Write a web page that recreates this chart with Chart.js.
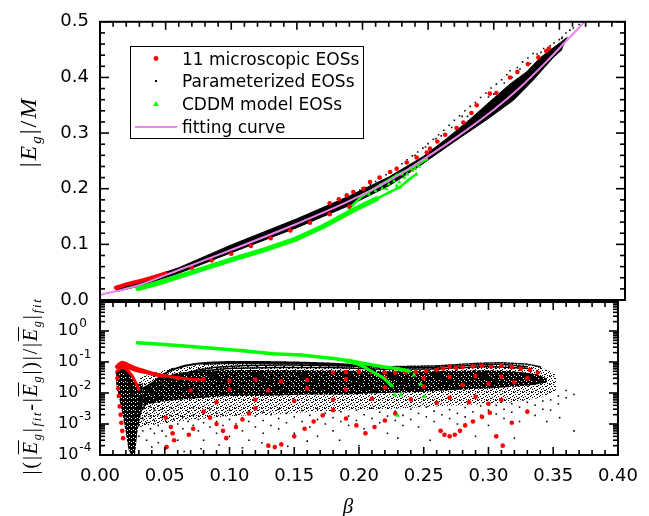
<!DOCTYPE html>
<html><head><meta charset="utf-8">
<script src="https://cdn.jsdelivr.net/npm/chart.js@4.4.1/dist/chart.umd.min.js"></script>
<style>
html,body{margin:0;padding:0;background:#fff}
body{width:649px;height:516px;position:relative;overflow:hidden}
canvas{position:absolute;left:0;top:0}
.t{position:absolute;white-space:nowrap;font-family:'Liberation Serif','Times New Roman',serif;color:#000;transform:translate(-50%,-50%) rotate(-90deg);line-height:1}
.t i{font-style:italic}
.t sub{font-size:0.62em;vertical-align:-0.35em;line-height:0}
.ob{text-decoration:overline;text-decoration-thickness:1px}
#bx{position:absolute;transform:translate(-50%,-50%);font:italic 21px 'Liberation Serif',serif;line-height:1}
</style></head><body>
<canvas id="cTop" width="649" height="516"></canvas>
<canvas id="cBot" width="649" height="516"></canvas>
<div class="t" style="left:28px;top:132px;font-size:24px;letter-spacing:2px">|<i>E</i><sub><i>g</i></sub>|/<i>M</i></div>
<div class="t" style="left:30px;top:386px;font-size:20px;letter-spacing:1.8px">|(|<i class="ob">E</i><sub><i>g</i></sub>|<sub><i>fit</i></sub>-|<i class="ob">E</i><sub><i>g</i></sub>|)|/|<i class="ob">E</i><sub><i>g</i></sub>|<sub><i>fit</i></sub></div>
<div id="bx" style="left:348px;top:506px">β</div>
<script>
// ---------- axis ticks ----------
const xMajorTicks = [0, 0.05, 0.10, 0.15, 0.20, 0.25, 0.30, 0.35, 0.40];
const yTopMajorTicks = [0, 0.1, 0.2, 0.3, 0.4, 0.5];
const yBotDecades = [-4, -3, -2, -1, 0];
const legendLabels = ['11 microscopic EOSs', 'Parameterized EOSs', 'CDDM model EOSs', 'fitting curve'];

// ---------- top panel: |Eg|/M vs beta ----------
const fitBeta = [0, 0.03, 0.06, 0.10, 0.15, 0.19, 0.22, 0.24, 0.27, 0.30, 0.32, 0.34, 0.355, 0.369, 0.38];
const fitEg   = [0.009, 0.027, 0.054, 0.090, 0.137, 0.178, 0.214, 0.243, 0.290, 0.342, 0.382, 0.428, 0.465, 0.500, 0.530];

const topBlackUpper = [[0.012,0.021],[0.03,0.034],[0.06,0.058],[0.10,0.099],[0.15,0.146],[0.19,0.187],[0.22,0.221],[0.2463,0.258],[0.264,0.290],[0.282,0.325],[0.2997,0.362],[0.3124,0.388],[0.325,0.410],[0.3352,0.435],[0.348,0.458],[0.356,0.472]];
const topBlackLower = [[0.012,0.015],[0.03,0.025],[0.06,0.048],[0.10,0.085],[0.15,0.130],[0.19,0.170],[0.22,0.205],[0.2438,0.2415],[0.269,0.283],[0.2946,0.324],[0.315,0.359],[0.330,0.395],[0.3454,0.436],[0.352,0.450]];
const topBlackDots = [[0.3606,0.489],[0.358,0.485],[0.355,0.480],[0.352,0.472],[0.35,0.468],[0.346,0.462],[0.343,0.457],[0.338,0.452],[0.333,0.442],[0.33,0.443],[0.326,0.435],[0.322,0.428],[0.318,0.418],[0.3124,0.412],[0.31,0.405],[0.306,0.396],[0.302,0.388],[0.298,0.381],[0.294,0.372],[0.29,0.364],[0.286,0.355],[0.282,0.348],[0.278,0.340],[0.274,0.331],[0.27,0.323],[0.266,0.314],[0.262,0.305],[0.258,0.297],[0.254,0.289],[0.25,0.281],[0.246,0.273],[0.242,0.266],[0.238,0.259],[0.234,0.252],[0.23,0.245],[0.226,0.238],[0.222,0.231],[0.218,0.225],[0.214,0.219],[0.21,0.213],[0.206,0.207],[0.202,0.202],[0.198,0.197],[0.194,0.193],[0.365,0.495],[0.34,0.44],[0.3,0.37],[0.28,0.33],[0.26,0.295],
  [0.352,0.47],[0.344,0.45],[0.336,0.445],[0.328,0.425],[0.32,0.415],[0.314,0.4],[0.308,0.39],[0.296,0.365],[0.288,0.35],[0.276,0.33],[0.268,0.31],[0.256,0.29],[0.248,0.275],[0.24,0.26]];
const topRedLow = [[0.012,0.022],[0.016,0.025],[0.02,0.028],[0.025,0.031],[0.03,0.034],[0.035,0.037],[0.042,0.042],[0.05,0.048]];
const topRedDots = [[0.175,0.174],[0.182,0.181],[0.188,0.188],[0.193,0.194],[0.2006,0.200],[0.2057,0.212],[0.213,0.220],[0.221,0.230],[0.226,0.236],[0.2337,0.247],[0.2413,0.256],[0.249,0.265],[0.2514,0.272],[0.257,0.285],[0.263,0.297],[0.2717,0.309],[0.2768,0.319],[0.283,0.336],[0.287,0.350],[0.297,0.371],[0.302,0.372],[0.3124,0.400],[0.318,0.410],[0.326,0.424],[0.334,0.436],[0.340,0.4476],[0.342,0.452],
  [0.07,0.058],[0.085,0.071],[0.10,0.083],[0.115,0.097],[0.13,0.111],[0.145,0.125],[0.16,0.139],[0.175,0.154],[0.19,0.168]];
const topGreenBand = [[0.029,0.0206],[0.045,0.031],[0.06,0.042],[0.0978,0.0707],[0.125,0.090],[0.1486,0.109],[0.17,0.132],[0.1943,0.163],[0.2108,0.182]];
const topGreenFanUpper = [[0.19,0.165],[0.2006,0.1885],[0.2133,0.206],[0.226,0.224],[0.2362,0.2356],[0.2489,0.253]];
const topGreenFanLower = [[0.2108,0.182],[0.22,0.193],[0.2286,0.203],[0.2362,0.218],[0.241,0.226]];
const topGreenDots = [[0.205,0.19],[0.21,0.196],[0.215,0.2],[0.22,0.208],[0.224,0.214],[0.228,0.212],[0.232,0.22],[0.234,0.226],[0.238,0.232],[0.243,0.24],[0.2438,0.247],[0.246,0.25],[0.24,0.236],[0.23,0.226],[0.218,0.2],[0.226,0.205]];

// ---------- bottom panel: relative deviation (log) ----------
const botGreenA = [[0.029,0.42],[0.047,0.37],[0.0724,0.31],[0.1105,0.23],[0.1333,0.185],[0.1549,0.168],[0.1803,0.13],[0.193,0.11],[0.2057,0.087],[0.2184,0.07],[0.2311,0.059],[0.2387,0.051]];
const botGreenB = [[0.19,0.108],[0.2,0.082],[0.2057,0.063],[0.2133,0.041],[0.2184,0.032],[0.2235,0.0205],[0.2256,0.017]];
const botGreenDots = [[0.2275,0.0087],[0.2324,0.0087],[0.2298,0.0019],[0.2425,0.038],[0.2476,0.0195],[0.2503,0.0076]];

const botRedStrand1 = [[0.013,0.07],[0.015,0.085],[0.017,0.095],[0.019,0.09],[0.022,0.078],[0.026,0.066],[0.03,0.058],[0.035,0.05],[0.04,0.043],[0.047,0.036]];
const botRedStrand2 = [[0.013,0.05],[0.016,0.065],[0.019,0.065],[0.022,0.05],[0.025,0.035],[0.028,0.02],[0.03,0.013]];
const botRedStrand3 = [[0.017,0.08],[0.02,0.07],[0.025,0.058],[0.03,0.05],[0.04,0.042],[0.05,0.036],[0.06,0.031],[0.07,0.028],[0.08,0.026]];
const botRedDots = [
  [0.0135,0.03],[0.014,0.014],[0.0145,0.008],[0.0152,0.0037],[0.016,0.002],[0.0165,0.0011],[0.0172,0.0006],[0.0178,0.00035],
  [0.0508,0.0016],[0.0547,0.0008],[0.056,0.0005],[0.0572,0.0003],[0.0515,0.00018],[0.0686,0.00045],[0.072,0.0007],
  [0.08,0.0025],[0.085,0.0016],[0.09,0.001],[0.095,0.0006],[0.0975,0.00035],[0.105,0.0008],[0.11,0.0014],[0.115,0.0022],[0.12,0.0032],
  [0.13,0.0002],[0.135,0.00018],[0.14,0.00022],[0.15,0.0004],[0.158,0.0007],[0.165,0.0012],[0.172,0.0019],[0.18,0.0028],
  [0.19,0.0015],[0.198,0.0009],[0.205,0.0005],[0.212,0.0008],[0.22,0.0013],[0.228,0.0022],
  [0.263,0.0006],[0.266,0.00045],[0.27,0.0004],[0.274,0.00045],[0.278,0.0006],[0.282,0.0009],[0.288,0.0012],[0.295,0.0017],[0.301,0.0023],
  [0.306,0.0004],[0.311,0.0002],[0.318,0.0011],[0.33,0.0025],[0.3,0.0045],
  [0.18,0.045],[0.19,0.047],[0.2,0.048],[0.21,0.047],[0.22,0.046],[0.228,0.045],[0.236,0.046],[0.244,0.047],[0.252,0.05],[0.26,0.055],[0.265,0.062],[0.27,0.07],[0.275,0.065],[0.28,0.068],[0.288,0.072],[0.295,0.075],[0.302,0.07],[0.31,0.075],[0.318,0.068],[0.325,0.06],[0.332,0.055],[0.338,0.045],
  [0.06,0.03],[0.08,0.028],[0.1,0.025],[0.12,0.027],[0.14,0.024],[0.16,0.026],[0.19,0.028],[0.22,0.03],[0.25,0.03],[0.27,0.033],[0.29,0.035],[0.31,0.033],[0.33,0.03],
  [0.07,0.012],[0.1,0.013],[0.13,0.012],[0.16,0.014],[0.19,0.013],[0.22,0.015],[0.25,0.016],[0.28,0.018],[0.3,0.02],[0.32,0.022],
  [0.09,0.005],[0.12,0.006],[0.15,0.0055],[0.18,0.006],[0.21,0.0065],[0.24,0.0062],[0.27,0.007],[0.29,0.0075],[0.31,0.006],[0.285,0.005],[0.26,0.0048]
];

const botArc1 = [[0.026,0.0015],[0.03,0.004],[0.035,0.01],[0.04,0.02],[0.047,0.035],[0.055,0.055],[0.065,0.075],[0.075,0.088],[0.085,0.095],[0.1,0.1],[0.12,0.1],[0.14,0.098],[0.16,0.094],[0.18,0.088],[0.195,0.08],[0.205,0.068],[0.213,0.052]];
const botArc2 = [[0.03,0.002],[0.04,0.009],[0.05,0.02],[0.06,0.035],[0.075,0.055],[0.09,0.068],[0.11,0.076],[0.14,0.08],[0.17,0.078],[0.2,0.072],[0.23,0.066],[0.26,0.068],[0.29,0.08],[0.31,0.085],[0.33,0.07]];
const botArc3 = [[0.013,0.045],[0.015,0.055],[0.017,0.058],[0.019,0.05],[0.021,0.035],[0.023,0.02],[0.025,0.009]];
const botArc4 = [[0.04,0.015],[0.05,0.03],[0.07,0.048],[0.1,0.062],[0.14,0.067],[0.18,0.066],[0.22,0.058],[0.26,0.06],[0.3,0.072],[0.33,0.062]];
const botArc5 = [[0.08,0.085],[0.1,0.09],[0.13,0.09],[0.16,0.086],[0.19,0.078],[0.22,0.07],[0.26,0.075],[0.29,0.09],[0.31,0.095],[0.33,0.085],[0.34,0.07]];
const botCoreUpper = [[0.033,0.015],[0.045,0.03],[0.06,0.045],[0.08,0.052],[0.10,0.055],[0.13,0.055],[0.16,0.054],[0.19,0.052],[0.22,0.05],[0.25,0.05],[0.28,0.052],[0.30,0.054],[0.32,0.05],[0.335,0.042],[0.345,0.03]];
const botCoreLower = [[0.033,0.004],[0.045,0.005],[0.06,0.006],[0.08,0.007],[0.10,0.008],[0.13,0.008],[0.16,0.009],[0.19,0.009],[0.22,0.01],[0.25,0.011],[0.28,0.013],[0.30,0.014],[0.32,0.016],[0.335,0.018],[0.345,0.022]];
const botHaloUpper = [[0.03,0.03],[0.045,0.05],[0.06,0.07],[0.08,0.085],[0.10,0.095],[0.13,0.095],[0.16,0.09],[0.19,0.082],[0.22,0.07],[0.25,0.07],[0.28,0.085],[0.30,0.095],[0.32,0.09],[0.34,0.07],[0.352,0.04]];
const botHaloLower = [[0.03,0.0008],[0.045,0.001],[0.06,0.0012],[0.08,0.0015],[0.10,0.0018],[0.13,0.002],[0.16,0.0024],[0.19,0.0028],[0.22,0.003],[0.25,0.0035],[0.28,0.004],[0.30,0.0045],[0.32,0.005],[0.34,0.007],[0.352,0.012]];
const botLeftUpper = [[0.0125,0.05],[0.014,0.07],[0.017,0.075],[0.02,0.06],[0.023,0.04],[0.026,0.025],[0.029,0.02],[0.033,0.02]];
const botLeftLower = [[0.0125,0.02],[0.015,0.006],[0.018,0.0015],[0.02,0.0005],[0.022,0.00015],[0.024,0.0001],[0.027,0.0001],[0.029,0.0006],[0.033,0.004]];
const botBlackDots = [
 [0.03,0.0009],[0.03,0.0025],[0.03,0.0004],[0.033,0.0015],[0.033,0.0006],[0.033,0.003],[0.036,0.0011],[0.036,0.0022],[0.036,0.0003],[0.036,0.0045],
 [0.039,0.0007],[0.039,0.0018],[0.039,0.0035],[0.042,0.0013],[0.042,0.0028],[0.042,0.0005],[0.045,0.0009],[0.045,0.002],[0.045,0.0038],[0.045,0.00025],
 [0.048,0.0016],[0.048,0.0006],[0.048,0.003],[0.051,0.0012],[0.051,0.0024],[0.051,0.0004],[0.054,0.0008],[0.054,0.0019],[0.054,0.0034],[0.057,0.0014],
 [0.057,0.0005],[0.057,0.0027],[0.06,0.001],[0.06,0.0021],[0.06,0.0003],[0.06,0.004],[0.064,0.0017],[0.064,0.0007],[0.068,0.0012],[0.068,0.0025],
 [0.068,0.00045],[0.072,0.0009],[0.072,0.0019],[0.072,0.0033],[0.076,0.0014],[0.076,0.0006],[0.08,0.0011],[0.08,0.0023],[0.08,0.0003],[0.085,0.0016],
 [0.085,0.0008],[0.085,0.003],[0.09,0.0012],[0.09,0.0005],[0.09,0.0022],[0.095,0.0019],[0.095,0.0009],[0.1,0.0014],[0.1,0.0004],[0.1,0.0028],
 [0.105,0.001],[0.105,0.002],[0.11,0.0016],[0.11,0.0006],[0.115,0.0012],[0.115,0.0026],[0.115,0.0003],[0.12,0.0018],[0.12,0.0008],[0.126,0.0013],
 [0.126,0.0024],[0.126,0.0005],[0.132,0.0009],[0.132,0.002],[0.138,0.0015],[0.138,0.0007],[0.138,0.003],[0.144,0.0011],[0.144,0.0022],[0.15,0.0017],
 [0.15,0.0005],[0.156,0.0012],[0.156,0.0027],[0.162,0.0019],[0.162,0.0008],[0.168,0.0014],[0.168,0.0004],[0.168,0.003],[0.174,0.001],[0.174,0.0022],
 [0.18,0.0016],[0.18,0.0006],[0.186,0.0025],[0.186,0.0012],[0.192,0.0018],[0.192,0.0009],[0.198,0.0013],[0.198,0.0028],[0.204,0.002],[0.204,0.0007],
 [0.21,0.0015],[0.21,0.0032],[0.216,0.0011],[0.216,0.0024],[0.222,0.0018],[0.222,0.0005],[0.228,0.0026],[0.228,0.0013],[0.234,0.0019],[0.234,0.0009],
 [0.24,0.0014],[0.24,0.003],[0.246,0.0022],[0.246,0.0008],[0.252,0.0017],[0.252,0.0035],[0.258,0.0012],[0.258,0.0026],[0.264,0.002],[0.264,0.0006],
 [0.27,0.0029],[0.27,0.0015],[0.276,0.0022],[0.276,0.001],[0.282,0.0034],[0.282,0.0017],[0.288,0.0025],[0.288,0.0012],[0.294,0.0038],[0.294,0.0019],
 [0.3,0.0028],[0.3,0.0009],[0.306,0.004],[0.306,0.0021],[0.312,0.003],[0.312,0.0015],[0.318,0.0045],[0.318,0.0024],[0.324,0.0035],[0.324,0.0012],
 [0.33,0.005],[0.33,0.0027],[0.336,0.004],[0.336,0.0019],[0.342,0.0055],[0.342,0.003],[0.348,0.006],[0.348,0.0028],[0.354,0.008],[0.354,0.0045],
 [0.36,0.007],[0.36,0.012],[0.366,0.009],[0.366,0.0006],
 [0.04,0.00018],[0.05,0.00015],[0.065,0.00013],[0.078,0.00016],[0.092,0.00021],[0.11,0.00017],[0.125,0.00025],[0.145,0.00019],[0.16,0.00028],[0.185,0.0003],[0.2,0.0002],[0.23,0.00035],[0.255,0.0003],[0.29,0.0004],[0.32,0.00035],[0.345,0.0012],[0.355,0.0016]
];

// ---------- helpers ----------
const P = a => a.map(p => ({x: p[0], y: p[1]}));
const fitData = fitBeta.map((b, i) => [b, fitEg[i]]);
function stipple(w, h, black, holes) {
  const c = document.createElement('canvas'); c.width = w; c.height = h;
  const g = c.getContext('2d'); g.fillStyle = '#000';
  black.forEach(r => g.fillRect(r[0], r[1], r[2], r[3]));
  holes.forEach(r => g.clearRect(r[0], r[1], r[2], r[3]));
  return g.createPattern(c, 'repeat');
}
const patCore = stipple(5, 5, [[0,0,5,5]], [[1,1,1,1],[3,3,1,1],[4,0,1,1]]);
const patHalo = stipple(9, 8, [[0,0,2,1],[4,0,1,1],[7,1,1,1],[2,2,1,1],[5,2,2,1],[0,3,1,1],[3,4,1,1],[8,4,1,1],[6,5,1,1],[1,5,1,1],[4,6,2,1],[0,7,1,1],[7,7,1,1],[2,7,1,1]], []);
const patLeft = stipple(4, 4, [[0,0,4,4]], [[1,1,1,1],[3,2,1,1]]);

function ser(data, o) {
  return Object.assign({data: P(data), showLine: false, borderWidth: 0, pointRadius: 0, pointHoverRadius: 0,
    fill: false, tension: 0, borderColor: '#000', backgroundColor: '#000', pointBorderWidth: 0}, o);
}
const RED = '#ff0000', GREEN = '#00ff00', BLACK = '#000000', PINK = '#ee82ee';
const FONT = "'DejaVu Sans', sans-serif";

function minorsLinear(from, to, step, majors) {
  const out = [];
  for (let v = from; v <= to + 1e-9; v += step) {
    const r = Math.round(v * 1000) / 1000;
    if (!majors.some(m => Math.abs(m - r) < 1e-9)) out.push(r);
  }
  return out;
}
const xMinorTicks = minorsLinear(0, 0.4, 0.01, xMajorTicks);
const yTopMinorTicks = minorsLinear(0, 0.5, 0.02, yTopMajorTicks);
const yBotMajorTicks = yBotDecades.map(d => Math.pow(10, d));
const yBotMinorTicks = [];
yBotDecades.forEach(d => { for (let k = 2; k <= 9; k++) { const v = k * Math.pow(10, d); if (v < 8.6) yBotMinorTicks.push(v); } });

// fills the region between two boundary datasets (positions come from Chart.js' own elements)
function bandPlugin(pairs) {
  return {
    id: 'bands',
    beforeDatasetsDraw(chart) {
      const ctx = chart.ctx, a = chart.chartArea;
      ctx.save(); ctx.beginPath(); ctx.rect(a.left, a.top, a.right - a.left, a.bottom - a.top); ctx.clip();
      pairs.forEach(([u, l, style]) => {
        const mu = chart.getDatasetMeta(u).data, ml = chart.getDatasetMeta(l).data;
        ctx.beginPath();
        mu.forEach((p, i) => i ? ctx.lineTo(p.x, p.y) : ctx.moveTo(p.x, p.y));
        for (let i = ml.length - 1; i >= 0; i--) ctx.lineTo(ml[i].x, ml[i].y);
        ctx.closePath(); ctx.fillStyle = style; ctx.fill();
      });
      ctx.restore();
    }
  };
}

const framePlugin = {
  id: 'frame',
  afterDatasetsDraw(chart, args, o) {
    const {ctx, chartArea: a} = chart; const xs = chart.scales.x, ys = chart.scales.y;
    ctx.save(); ctx.strokeStyle = '#000';
    const seg = (x1, y1, x2, y2) => { ctx.beginPath(); ctx.moveTo(x1, y1); ctx.lineTo(x2, y2); ctx.stroke(); };
    ctx.lineWidth = 1.6;
    const xt = (list, len) => list.forEach(v => { const p = xs.getPixelForValue(v);
      if (o.top) seg(p, a.top, p, a.top + len); if (o.bottom) seg(p, a.bottom, p, a.bottom - len); });
    const yt = (list, len) => list.forEach(v => { const p = ys.getPixelForValue(v);
      if (p < a.top - 0.5 || p > a.bottom + 0.5) return;
      seg(a.left, p, a.left + len, p); seg(a.right, p, a.right - len, p); });
    xt(xMajorTicks, 8); xt(xMinorTicks, 5);
    yt(o.yMajor, 9); yt(o.yMinor, 5);
    ctx.lineWidth = 2;
    ctx.strokeRect(a.left, a.top, a.right - a.left, a.bottom - a.top);
    ctx.restore();
  }
};

const legendPlugin = {
  id: 'boxLegend',
  afterDatasetsDraw(chart) {
    const ctx = chart.ctx; ctx.save();
    ctx.fillStyle = '#fff'; ctx.fillRect(130, 46, 233, 92);
    ctx.strokeStyle = '#000'; ctx.lineWidth = 1; ctx.strokeRect(130.5, 46.5, 233, 92);
    const mx = 156, ys = [58.5, 81, 104, 127];
    ctx.fillStyle = RED; ctx.beginPath(); ctx.arc(mx, ys[0], 2.4, 0, Math.PI * 2); ctx.fill();
    ctx.fillStyle = BLACK; ctx.fillRect(mx - 1, ys[1] - 1, 2, 2);
    ctx.fillStyle = GREEN; ctx.beginPath(); ctx.moveTo(mx, ys[2] - 3); ctx.lineTo(mx + 3, ys[2] + 2); ctx.lineTo(mx - 3, ys[2] + 2); ctx.closePath(); ctx.fill();
    ctx.strokeStyle = PINK; ctx.lineWidth = 2; ctx.beginPath(); ctx.moveTo(135, ys[3]); ctx.lineTo(177, ys[3]); ctx.stroke();
    ctx.fillStyle = '#000'; ctx.font = '17px ' + FONT; ctx.textBaseline = 'alphabetic'; ctx.textAlign = 'left';
    legendLabels.forEach((t, i) => ctx.fillText(t, 182, ys[i] + 6.2));
    ctx.restore();
  }
};

const logLabelPlugin = {
  id: 'logLabels',
  afterDraw(chart) {
    const ctx = chart.ctx, ys = chart.scales.y; ctx.save();
    ctx.fillStyle = '#000'; ctx.textAlign = 'left'; ctx.textBaseline = 'middle';
    yBotDecades.forEach(d => {
      const y = ys.getPixelForValue(Math.pow(10, d));
      ctx.font = '16px ' + FONT; ctx.fillText('10', 58, y);
      const w = ctx.measureText('10').width;
      ctx.font = '12px ' + FONT; ctx.fillText(String(d), 58 + w + 1, y - 7);
    });
    ctx.restore();
  }
};

const base = {
  responsive: false, animation: false, devicePixelRatio: 1, events: [],
  plugins: {legend: {display: false}, tooltip: {enabled: false}},
  elements: {point: {pointStyle: 'circle'}, line: {borderJoinStyle: 'round', borderCapStyle: 'round'}}
};

// ---------- top chart ----------
const topSets = [];
topSets.push(ser(fitData, {showLine: true, borderColor: PINK, borderWidth: 2, cubicInterpolationMode: 'monotone', order: 0}));
topSets.push(ser(topRedLow, {showLine: true, borderColor: RED, borderWidth: 4, order: 1}));
topSets.push(ser(topRedDots, {pointRadius: 2.3, backgroundColor: RED, order: 1}));
topSets.push(ser(topGreenBand, {showLine: true, borderColor: GREEN, borderWidth: 5, order: 2}));
topSets.push(ser(topGreenFanUpper, {showLine: true, borderColor: GREEN, borderWidth: 2.5, pointStyle: 'triangle', pointRadius: 2.4, backgroundColor: GREEN, order: 2}));
topSets.push(ser(topGreenFanLower, {showLine: true, borderColor: GREEN, borderWidth: 2.5, pointStyle: 'triangle', pointRadius: 2.4, backgroundColor: GREEN, order: 2}));
topSets.push(ser(topGreenDots, {pointStyle: 'triangle', pointRadius: 2.4, backgroundColor: GREEN, order: 2}));
const tbU = topSets.length;
topSets.push(ser(topBlackUpper, {showLine: true, borderWidth: 1, borderColor: BLACK, order: 3}));
topSets.push(ser(topBlackLower, {showLine: true, borderWidth: 1, borderColor: BLACK, order: 3}));
topSets.push(ser(topBlackDots, {pointStyle: 'rect', pointRadius: 1.1, backgroundColor: BLACK, order: 3}));

new Chart(document.getElementById('cTop'), {
  type: 'line',
  data: {datasets: topSets},
  options: Object.assign({}, base, {
    layout: {padding: {left: 0, right: 24, top: 17, bottom: 216}},
    scales: {
      x: {type: 'linear', min: 0, max: 0.4, display: false},
      y: {type: 'linear', min: 0, max: 0.5,
          ticks: {stepSize: 0.1, callback: v => Number(v).toFixed(1), color: '#000', font: {family: FONT, size: 18}, padding: 11},
          grid: {display: false, drawTicks: false}, border: {display: false},
          afterFit: s => { s.width = 100; }}
    },
    plugins: Object.assign({}, base.plugins, {frame: {top: true, bottom: false, yMajor: yTopMajorTicks, yMinor: yTopMinorTicks}})
  }),
  plugins: [bandPlugin([[tbU, tbU + 1, BLACK]]), framePlugin, legendPlugin]
});

// ---------- bottom chart ----------
const botSets = [];
botSets.push(ser(botGreenA, {showLine: true, borderColor: GREEN, borderWidth: 3.5, pointStyle: 'triangle', pointRadius: 2.4, backgroundColor: GREEN, order: 0}));
botSets.push(ser(botGreenB, {showLine: true, borderColor: GREEN, borderWidth: 3, pointStyle: 'triangle', pointRadius: 2.4, backgroundColor: GREEN, order: 0}));
botSets.push(ser(botGreenDots, {pointStyle: 'triangle', pointRadius: 2.8, backgroundColor: GREEN, order: 0}));
botSets.push(ser(botRedStrand1, {showLine: true, borderColor: RED, borderWidth: 4, order: 1}));
botSets.push(ser(botRedStrand2, {showLine: true, borderColor: RED, borderWidth: 3, order: 1}));
botSets.push(ser(botRedStrand3, {showLine: true, borderColor: RED, borderWidth: 3, order: 1}));
botSets.push(ser(botRedDots, {pointRadius: 2.3, backgroundColor: RED, order: 1}));
botSets.push(ser(botArc1, {showLine: true, borderColor: BLACK, borderWidth: 2, borderDash: [2, 1], order: 2}));
botSets.push(ser(botArc2, {showLine: true, borderColor: BLACK, borderWidth: 1.5, borderDash: [2, 1], order: 2}));
botSets.push(ser(botArc3, {showLine: true, borderColor: BLACK, borderWidth: 3, order: 2}));
botSets.push(ser(botArc4, {showLine: true, borderColor: BLACK, borderWidth: 1.5, borderDash: [2, 1], order: 2}));
botSets.push(ser(botArc5, {showLine: true, borderColor: BLACK, borderWidth: 1.5, borderDash: [2, 1.5], order: 2}));
botSets.push(ser(botBlackDots, {pointStyle: 'rect', pointRadius: 1.1, backgroundColor: BLACK, order: 2}));
const iHalo = botSets.length;
botSets.push(ser(botHaloUpper, {order: 4}));
botSets.push(ser(botHaloLower, {order: 4}));
const iCore = botSets.length;
botSets.push(ser(botCoreUpper, {order: 3}));
botSets.push(ser(botCoreLower, {order: 3}));
const iLeft = botSets.length;
botSets.push(ser(botLeftUpper, {order: 3}));
botSets.push(ser(botLeftLower, {order: 3}));

new Chart(document.getElementById('cBot'), {
  type: 'line',
  data: {datasets: botSets},
  options: Object.assign({}, base, {
    layout: {padding: {left: 0, right: 24, top: 302, bottom: 0}},
    scales: {
      x: {type: 'linear', min: 0, max: 0.4,
          ticks: {stepSize: 0.05, callback: v => Number(v).toFixed(2), color: '#000', font: {family: FONT, size: 18}, padding: 11, maxRotation: 0, autoSkip: false},
          grid: {display: false, drawTicks: false}, border: {display: false},
          afterFit: s => { s.height = 61; }},
      y: {type: 'logarithmic', min: 1e-4, max: 8.6,
          ticks: {display: false}, grid: {display: false, drawTicks: false}, border: {display: false},
          afterFit: s => { s.width = 100; }}
    },
    plugins: Object.assign({}, base.plugins, {frame: {top: true, bottom: true, yMajor: yBotMajorTicks, yMinor: yBotMinorTicks}})
  }),
  plugins: [bandPlugin([[iHalo, iHalo + 1, patHalo], [iCore, iCore + 1, patCore], [iLeft, iLeft + 1, patLeft]]), framePlugin, logLabelPlugin]
});
</script>
</body></html>
